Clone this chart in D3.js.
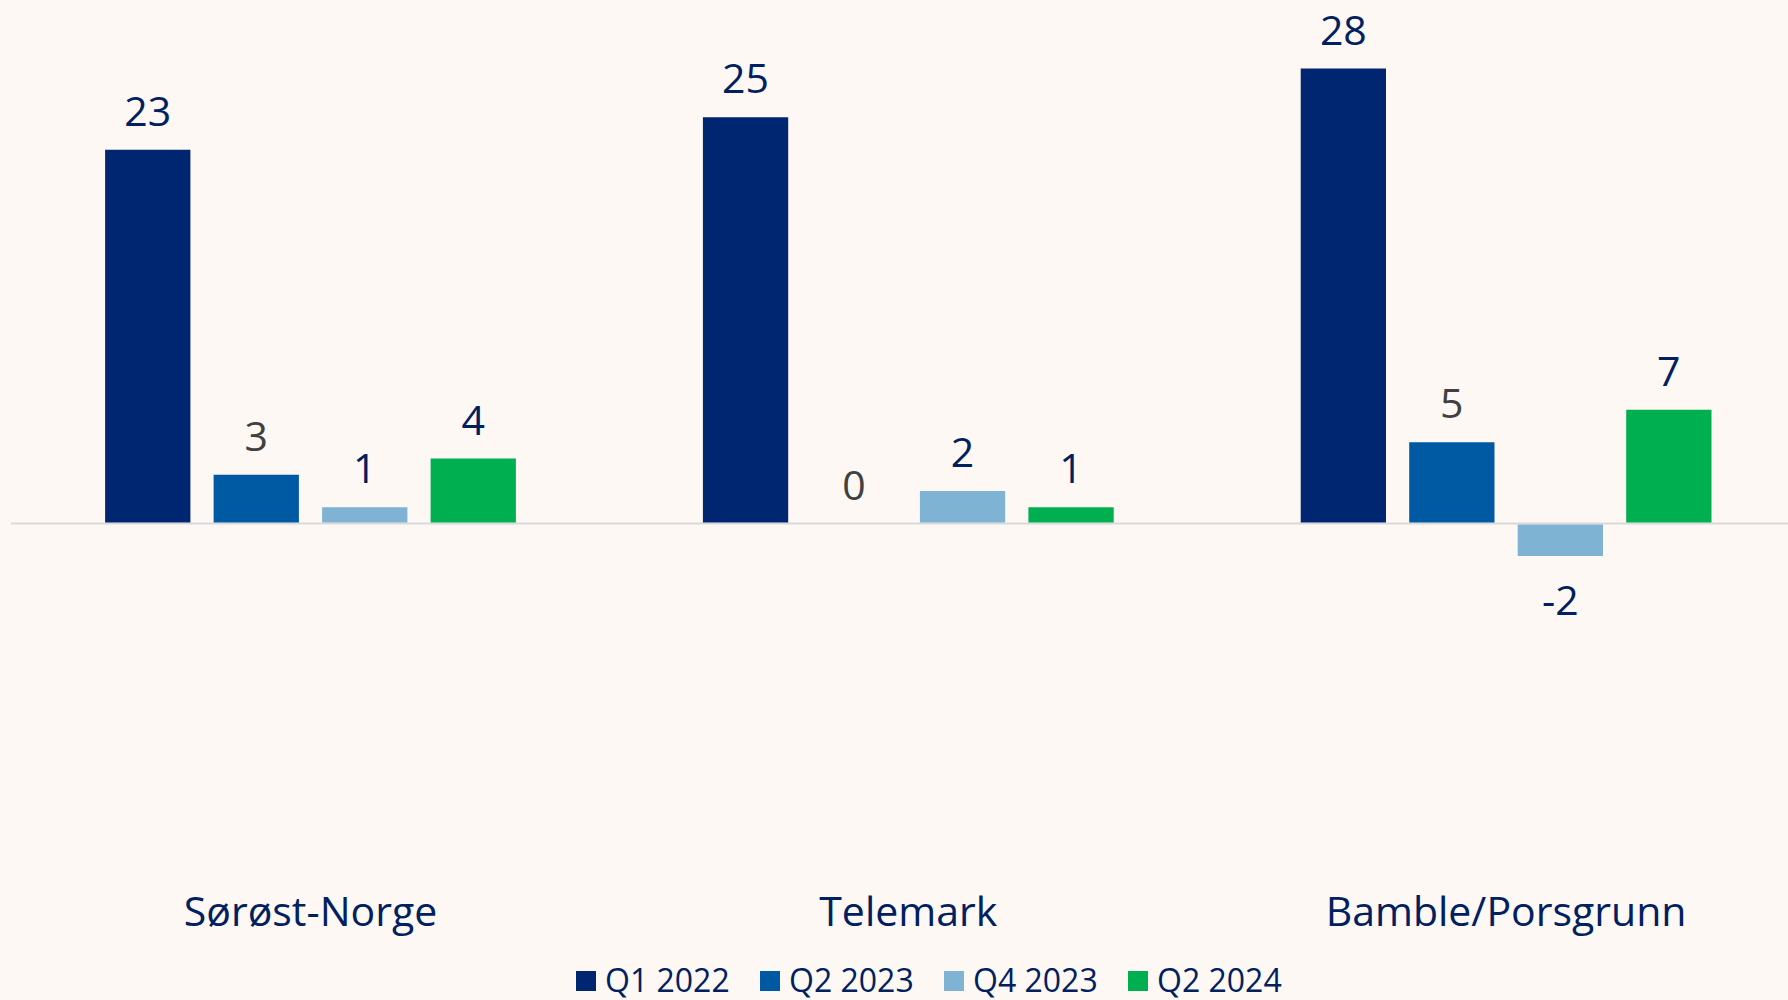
<!DOCTYPE html>
<html lang="no">
<head>
  <meta charset="UTF-8">
  <title>Chart</title>
  <style>
    body { margin: 0; background: #fdf8f4; }
    svg { display: block; }
  </style>
</head>
<body>
  <svg id="svg" width="1788" height="1000"></svg>
  <script src="https://d3js.org/d3.v7.min.js"></script>
  <script>
    const regions = ['Sørøst-Norge', 'Telemark', 'Bamble/Porsgrunn']
    const series = ['Q1 2022', 'Q2 2023', 'Q4 2023', 'Q2 2024']
    const q1_2022 = [23, 25, 28]
    const q2_2023 = [3, 0, 5]
    const q4_2023 = [1, 2, -2]
    const q2_2024 = [4, 1, 7]
    const colors = ['#002672', '#005aa3', '#7fb3d3', '#00af50']
    const labelColors = ['#002060', '#404040', '#002060', '#002060']

    const values = [q1_2022, q2_2023, q4_2023, q2_2024]
    const data = regions.map((r, i) => ({
      region: r,
      vals: series.map((s, j) => ({ s, j, v: values[j][i] }))
    }))

    const font = '"Open Sans", "Noto Sans", sans-serif'
    const svg = d3.select('#svg')

    svg.append('rect')
      .attr('width', 1788).attr('height', 1000)
      .attr('fill', '#fdf8f4')

    const x0 = d3.scaleBand()
      .domain(regions)
      .range([11.6, 1805])
      .paddingInner(0.274)
      .paddingOuter(0.137)

    const x1 = d3.scaleBand()
      .domain(series)
      .range([0, x0.bandwidth()])
      .paddingInner(0.214)
      .paddingOuter(0.107)

    const y = d3.scaleLinear()
      .domain([-10, 30])
      .range([686, 36])

    // zero line
    svg.append('line')
      .attr('x1', 11).attr('x2', 1788)
      .attr('y1', y(0)).attr('y2', y(0))
      .attr('stroke', '#d9d9d9')
      .attr('stroke-width', 2)

    const groups = svg.selectAll('g.region')
      .data(data)
      .enter()
      .append('g')
      .attr('class', 'region')
      .attr('transform', d => `translate(${x0(d.region)},0)`)

    groups.selectAll('rect')
      .data(d => d.vals)
      .enter()
      .append('rect')
      .attr('x', d => x1(d.s))
      .attr('width', x1.bandwidth())
      .attr('y', d => d.v >= 0 ? y(d.v) : y(0) + 1)
      .attr('height', d => Math.abs(y(d.v) - y(0)) - 1)
      .attr('fill', d => colors[d.j])

    groups.selectAll('text.val')
      .data(d => d.vals)
      .enter()
      .append('text')
      .attr('class', 'val')
      .text(d => d.v)
      .attr('x', d => x1(d.s) + x1.bandwidth() / 2)
      .attr('y', d => d.v >= 0 ? y(d.v) - 24 : y(d.v) + 59)
      .attr('text-anchor', 'middle')
      .style('font-family', font)
      .style('font-size', '41px')
      .attr('fill', d => labelColors[d.j])

    // category labels
    svg.selectAll('text.cat')
      .data(regions)
      .enter()
      .append('text')
      .attr('class', 'cat')
      .text(d => d)
      .attr('x', d => x0(d) + x0.bandwidth() / 2)
      .attr('y', 926)
      .attr('text-anchor', 'middle')
      .style('font-family', font)
      .style('font-size', '41px')
      .attr('fill', '#002060')

    // legend
    const lx = d3.scaleBand()
      .domain(series)
      .range([576, 1312])

    const legend = svg.selectAll('g.legend')
      .data(series)
      .enter()
      .append('g')
      .attr('class', 'legend')
      .attr('transform', d => `translate(${lx(d)},0)`)

    legend.append('rect')
      .attr('x', 0).attr('y', 971)
      .attr('width', 20).attr('height', 20)
      .attr('fill', (d, i) => colors[i])

    legend.append('text')
      .text(d => d)
      .attr('x', 29)
      .attr('y', 992)
      .style('font-family', font)
      .style('font-size', '32px')
      .attr('fill', '#002060')
  </script>
</body>
</html>
